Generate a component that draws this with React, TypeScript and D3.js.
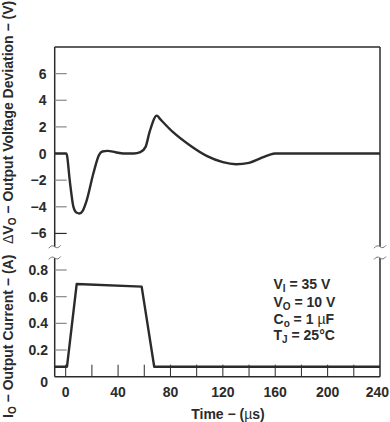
import React from 'react';
import * as d3 from 'd3';

// output voltage deviation (V) vs time (us)
const V_TIME = [-8.4, 0.5, 3.3, 5.9, 8.5, 10.5, 13, 16.1, 21.1, 25.5, 28, 32, 38, 44, 52, 57, 61, 64, 69.6, 72, 82, 95, 108, 120, 130, 140, 149, 155, 160, 240];
const V_DEV = [0, 0, -2.2, -4.0, -4.45, -4.5, -4.3, -3.5, -1.5, -0.1, 0.15, 0.2, 0.1, 0, 0, 0.1, 0.5, 1.6, 2.85, 2.6, 1.6, 0.6, -0.2, -0.65, -0.8, -0.7, -0.35, -0.12, 0, 0];

// output current (A) vs time (us)
const I_TIME = [-8.4, 1, 8.4, 58, 67.6, 240];
const I_OUT = [0.075, 0.075, 0.695, 0.675, 0.075, 0.075];

const V_TICKS = [-6, -4, -2, 0, 2, 4, 6];
const I_TICKS = [0.2, 0.4, 0.6, 0.8];
const I_LABELS = [0, 0.2, 0.4, 0.6, 0.8];
const X_LABELS = [0, 40, 80, 120, 160, 200, 240];
const X_MINOR = d3.range(0, 240, 20);

const FONT = '"Liberation Sans", Arial, sans-serif';
const INK = '#2b2b2b';

export default function App() {
  const x = d3.scaleLinear().domain([-8.4, 240]).range([54.7, 380]);
  const yV = d3.scaleLinear().domain([-7, 8]).range([246.75, 47]);
  const yI = d3.scaleLinear().domain([0, 0.89]).range([376.7, 258]);

  const left = x(-8.4);
  const right = x(240);
  const top = yV(8);
  const upBottom = yV(-7);
  const lowTop = yI(0.89);
  const bottom = yI(0);

  const vLine = d3.line<number>()
    .x((_, i) => x(V_TIME[i]))
    .y(d => yV(d))
    .curve(d3.curveMonotoneX);
  const iLine = d3.line<number>()
    .x((_, i) => x(I_TIME[i]))
    .y(d => yI(d));

  const brk = (cx: number, cy: number) =>
    `M${cx - 6},${cy + 1.5} q3,-4 6,-1.5 t6,-1.5`;

  return (
    <svg width={390} height={422} style={{ position: 'absolute', left: 0, top: 0, background: '#fff' }}
      fontFamily={FONT} fontWeight="bold">
      {/* frame */}
      <g stroke={INK} strokeWidth={1.5} fill="none">
        <line x1={left} x2={right} y1={top} y2={top} />
        <line x1={left} x2={left} y1={top} y2={upBottom} />
        <line x1={right} x2={right} y1={top} y2={upBottom} />
        <line x1={left} x2={left} y1={lowTop} y2={bottom} />
        <line x1={right} x2={right} y1={lowTop} y2={bottom} />
        <line x1={left} x2={right} y1={bottom} y2={bottom} />
      </g>
      <g stroke="#777" strokeWidth={1} fill="none">
        <path d={brk(left, upBottom)} />
        <path d={brk(left, lowTop)} />
        <path d={brk(right, upBottom)} />
        <path d={brk(right, lowTop)} />
      </g>

      {/* upper ticks */}
      {V_TICKS.map(t => (
        <g key={'v' + t}>
          <line x1={left} x2={left + 12} y1={yV(t)} y2={yV(t)} stroke={t === -6 ? INK : '#888'} strokeWidth={1.2} />
          <text x={46.5} y={yV(t)} dy="0.36em" textAnchor="end" fontSize={14} fill={INK}>
            {t < 0 ? '\u2212' + Math.abs(t) : t}
          </text>
        </g>
      ))}

      {/* lower ticks */}
      {I_TICKS.map(t => (
        <line key={'i' + t} x1={left} x2={left + 12} y1={yI(t)} y2={yI(t)} stroke="#888" strokeWidth={1.2} />
      ))}
      {I_LABELS.map(t => (
        <text key={'il' + t} x={48} y={t === 0 ? yI(t) + 5 : yI(t)} dy="0.36em" textAnchor="end" fontSize={14} fill={INK}>
          {t === 0 ? '0' : t.toFixed(1)}
        </text>
      ))}
      {X_MINOR.map(t => (
        <line key={'x' + t} x1={x(t)} x2={x(t)} y1={bottom} y2={bottom - 12} stroke={INK} strokeWidth={1} />
      ))}
      {X_LABELS.map(t => {
        const last = t === 240;
        return (
          <text key={'xl' + t} x={last ? 389 : x(t)} y={396.8} textAnchor={last ? 'end' : 'middle'} fontSize={14} fill={INK}>{t}</text>
        );
      })}

      {/* data */}
      <path d={vLine(V_DEV) ?? ''} fill="none" stroke={INK} strokeWidth={2.4} strokeLinejoin="round" />
      <path d={iLine(I_OUT) ?? ''} fill="none" stroke={INK} strokeWidth={2.4} strokeLinejoin="round" />

      {/* conditions */}
      <g fontSize={14} fill={INK}>
        <text x={273.5} y={289}>V<tspan fontSize={10} dy={3}>I</tspan><tspan dy={-3}> = 35 V</tspan></text>
        <text x={273.5} y={307}>V<tspan fontSize={10} dy={3}>O</tspan><tspan dy={-3}> = 10 V</tspan></text>
        <text x={273.5} y={323.5}>C<tspan fontSize={10} dy={3}>o</tspan><tspan dy={-3}> = 1 </tspan><tspan fontWeight="normal">µ</tspan>F</text>
        <text x={273.5} y={339.5}>T<tspan fontSize={10} dy={3}>J</tspan><tspan dy={-3}> = 25°C</tspan></text>
      </g>

      {/* axis titles */}
      <text x={228} y={419} textAnchor="middle" fontSize={14} fill={INK}>
        Time − (<tspan fontWeight="normal">µ</tspan>s)
      </text>
      <text transform="translate(13,244) rotate(-90)" fontSize={14} fill={INK}>
        <tspan fontWeight="normal">Δ</tspan>V<tspan fontSize={10} dy={3}>O</tspan><tspan dy={-3}> − Output Voltage Deviation − (V)</tspan>
      </text>
      <text transform="translate(13,418) rotate(-90)" fontSize={14} fill={INK}>
        I<tspan fontSize={10} dy={3}>O</tspan><tspan dy={-3}> − Output Current − (A)</tspan>
      </text>
    </svg>
  );
}
